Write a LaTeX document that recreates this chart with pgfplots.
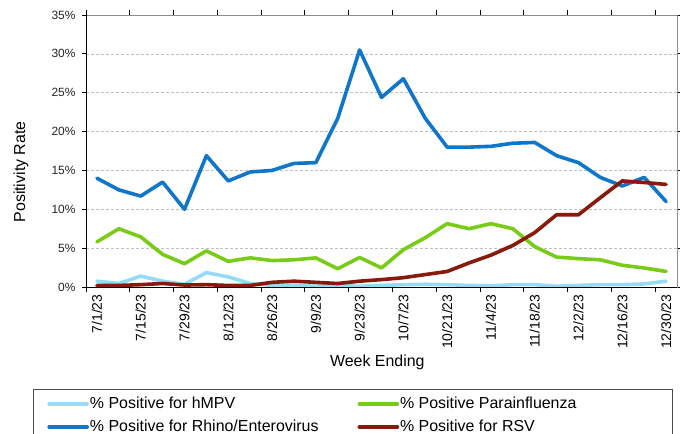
\documentclass[border=0pt]{standalone}
\usepackage{pgfplots}
\pgfplotsset{compat=1.18}
\usepackage{fontspec}
\setmainfont{Liberation Sans}
\definecolor{hmpv}{RGB}{150,218,245}
\definecolor{para}{RGB}{120,204,24}
\definecolor{rhino}{RGB}{16,118,201}
\definecolor{rsv}{RGB}{135,26,10}
\begin{document}
\begin{tikzpicture}
\begin{axis}[
  scale only axis,
  width=591bp, height=272bp,
  xmin=-0.5, xmax=26.5,
  ymin=0, ymax=35,
  axis line style={draw=black!45, line width=0.8bp},
  /pgf/number format/assume math mode=true,
  ytick={0,5,...,35},
  yticklabel={\pgfmathprintnumber{\tick}\%},
  yticklabel style={font=\fontsize{12}{14}\selectfont, text=black!85, xshift=-3bp},
  ymajorgrids,
  grid style={densely dashed, black!25, line width=0.5bp},
  xtick={0,2,...,26},
  xticklabels={7/1/23,7/15/23,7/29/23,8/12/23,8/26/23,9/9/23,9/23/23,10/7/23,10/21/23,11/4/23,11/18/23,12/2/23,12/16/23,12/30/23},
  xticklabel style={rotate=90, anchor=east, font=\fontsize{14}{16}\selectfont, text=black},
  xtick style={draw=none},
  extra x ticks={-0.5,1.5,...,25.5},
  extra x tick labels={},
  extra x tick style={xtick style={draw=black, line width=0.8bp}, major tick length=5bp, tick align=outside, grid=none},
  ytick style={draw=black, line width=0.8bp},
  tick align=outside,
  major tick length=4bp,
  xlabel={Week Ending},
  xlabel style={at={(axis description cs:0.493,0)}, anchor=center, yshift=-75bp, font=\fontsize{16}{19}\selectfont},
  ylabel={Positivity Rate},
  ylabel style={at={(axis description cs:-0.110,0.423)}, anchor=center, font=\fontsize{16}{19}\selectfont},
  legend columns=2,
  legend cell align=left,
  legend image code/.code={\draw[#1] (0bp,0bp) -- (38bp,0bp);},
  legend style={at={(axis description cs:-0.0897,-0.375)}, anchor=north west,
    draw=black!70, line width=0.8bp, font=\fontsize{16}{19}\selectfont,
    inner xsep=14bp, inner ysep=6bp,
    nodes={inner xsep=1bp, inner ysep=2bp},
    row sep=6bp,
    /tikz/every even column/.append style={column sep=38bp}},
  every axis plot/.append style={line width=3.6bp, line join=round, line cap=round},
]
\addplot[hmpv] coordinates {(0,0.75)(1,0.45)(2,1.4)(3,0.75)(4,0.35)(5,1.85)(6,1.3)(7,0.45)(8,0.2)(9,0.2)(10,0.1)(11,0.2)(12,0.1)(13,0.2)(14,0.3)(15,0.35)(16,0.3)(17,0.2)(18,0.15)(19,0.3)(20,0.3)(21,0.1)(22,0.2)(23,0.3)(24,0.3)(25,0.4)(26,0.75)};
\addlegendentry{\% Positive for hMPV}
\addplot[para] coordinates {(0,5.8)(1,7.5)(2,6.45)(3,4.2)(4,3.0)(5,4.65)(6,3.3)(7,3.75)(8,3.4)(9,3.5)(10,3.75)(11,2.35)(12,3.8)(13,2.45)(14,4.8)(15,6.35)(16,8.15)(17,7.5)(18,8.15)(19,7.5)(20,5.2)(21,3.85)(22,3.65)(23,3.5)(24,2.8)(25,2.45)(26,2.0)};
\addlegendentry{\makebox[257bp][l]{\% Positive Parainfluenza}}
\addplot[rhino] coordinates {(0,14.0)(1,12.5)(2,11.7)(3,13.5)(4,10.0)(5,16.9)(6,13.65)(7,14.8)(8,15.0)(9,15.9)(10,16.0)(11,21.7)(12,30.5)(13,24.4)(14,26.8)(15,21.7)(16,18.0)(17,18.0)(18,18.1)(19,18.5)(20,18.6)(21,16.9)(22,16.0)(23,14.1)(24,13.0)(25,14.1)(26,11.0)};
\addlegendentry{\% Positive for Rhino/Enterovirus}
\addplot[rsv] coordinates {(0,0.2)(1,0.2)(2,0.3)(3,0.45)(4,0.25)(5,0.3)(6,0.2)(7,0.2)(8,0.6)(9,0.75)(10,0.6)(11,0.45)(12,0.75)(13,0.95)(14,1.2)(15,1.6)(16,2.0)(17,3.1)(18,4.1)(19,5.35)(20,7.0)(21,9.3)(22,9.3)(23,11.5)(24,13.65)(25,13.45)(26,13.2)};
\addlegendentry{\% Positive for RSV}
\draw[black, line width=0.8bp] (rel axis cs:0,1) -- (rel axis cs:0,0) -- (rel axis cs:1,0);
\coordinate (o) at (rel axis cs:0,0);
\end{axis}
\pgfresetboundingbox
\path[use as bounding box] (o) ++(-86bp,-147bp) rectangle ++(680bp,434bp);
\end{tikzpicture}
\end{document}
